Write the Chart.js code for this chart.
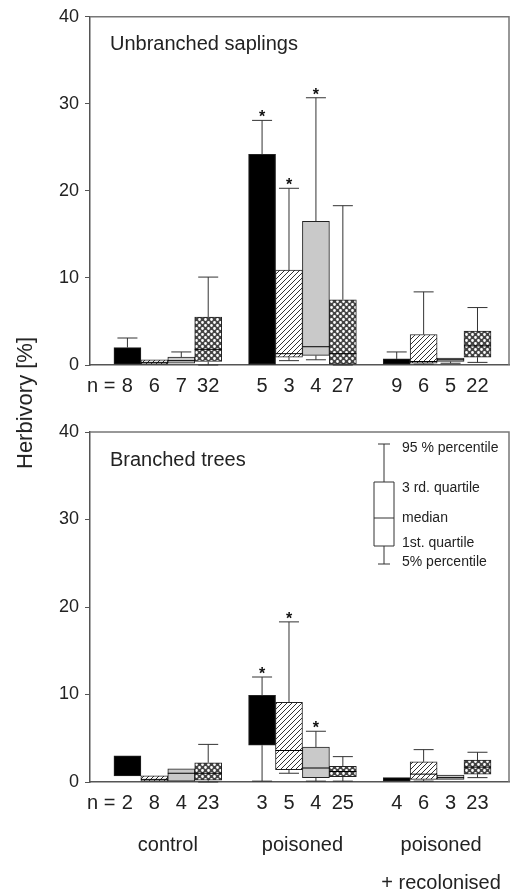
<!DOCTYPE html>
<html>
<head>
<meta charset="utf-8">
<script src="https://cdn.jsdelivr.net/npm/chart.js@4.4.1/dist/chart.umd.min.js"></script>
<style>
  html, body { margin: 0; padding: 0; background: #fff; }
  #wrap { position: relative; width: 510px; height: 893px; overflow: hidden; font-family: "Liberation Sans", Arial, sans-serif; }
  #topBox { position: absolute; left: 0; top: 0; width: 510px; height: 400px; }
  #bottomBox { position: absolute; left: 0; top: 400px; width: 510px; height: 493px; }
  #ytitle { position: absolute; left: 25px; top: 403px; transform: translate(-50%, -50%) rotate(-90deg);
            font-size: 22px; color: #222; white-space: nowrap; }
</style>
</head>
<body>
<div id="wrap">
  <div id="topBox"><canvas id="top" width="510" height="400"></canvas></div>
  <div id="bottomBox"><canvas id="bottom" width="510" height="493"></canvas></div>
  <div id="ytitle">Herbivory [%]</div>
</div>
<script>
// bar slots on the x axis (gaps at 5 and 10 separate the three treatments)
const xPositions = [1, 2, 3, 4, 6, 7, 8, 9, 11, 12, 13, 14];
const groupNames = [['control'], ['poisoned'], ['poisoned', '+ recolonised']];
const fillKinds = ['black', 'hatch', 'grey', 'mesh', 'black', 'hatch', 'grey', 'mesh', 'black', 'hatch', 'grey', 'mesh'];
const yTicks = [0, 10, 20, 30, 40];

// Unbranched saplings
const saplingN   = ['8', '6', '7', '32', '5', '3', '4', '27', '9', '6', '5', '22'];
const saplingP5  = [0.1, 0.1, 0.2, 0.0, 0.0, 0.5, 0.6, 0.0, 0.1, 0.1, 0.2, 0.3];
const saplingQ1  = [0.1, 0.1, 0.2, 0.4, 0.0, 0.9, 1.1, 0.1, 0.1, 0.2, 0.4, 0.9];
const saplingMed = [0.9, 0.3, 0.5, 1.8, 12.0, 1.3, 2.1, 1.3, 0.4, 0.4, 0.6, 2.2];
const saplingQ3  = [2.0, 0.6, 0.9, 5.5, 24.2, 10.9, 16.5, 7.5, 0.7, 3.5, 0.8, 3.9];
const saplingP95 = [3.1, 0.6, 1.5, 10.1, 28.1, 20.3, 30.7, 18.3, 1.5, 8.4, 0.8, 6.6];
const saplingStar = [0, 0, 0, 0, 1, 1, 1, 0, 0, 0, 0, 0];

// Branched trees
const treeN   = ['2', '8', '4', '23', '3', '5', '4', '25', '4', '6', '3', '23'];
const treeP5  = [0.7, 0.1, 0.1, 0.0, 0.1, 1.0, 0.1, 0.1, 0.1, 0.1, 0.3, 0.5];
const treeQ1  = [0.7, 0.1, 0.1, 0.2, 4.2, 1.4, 0.5, 0.6, 0.1, 0.3, 0.3, 0.9];
const treeMed = [1.8, 0.3, 1.0, 1.0, 7.0, 3.6, 1.6, 1.2, 0.3, 0.9, 0.5, 1.7];
const treeQ3  = [3.0, 0.7, 1.5, 2.2, 9.9, 9.1, 4.0, 1.8, 0.5, 2.3, 0.8, 2.5];
const treeP95 = [3.0, 0.7, 1.5, 4.3, 12.0, 18.3, 5.8, 2.9, 0.5, 3.7, 0.8, 3.4];
const treeStar = [0, 0, 0, 0, 1, 1, 1, 0, 0, 0, 0, 0];

const FONT = '"Liberation Sans", Arial, sans-serif';
Chart.defaults.font.family = FONT;

function makeFill(kind) {
  if (kind === 'black') return '#000';
  if (kind === 'grey') return '#c9c9c9';
  const c = document.createElement('canvas');
  const g = c.getContext('2d');
  if (kind === 'hatch') {
    c.width = 5; c.height = 5;
    g.fillStyle = '#fff';
    g.fillRect(0, 0, 5, 5);
    g.strokeStyle = '#333';
    g.lineWidth = 1;
    g.beginPath();
    g.moveTo(-1, 6); g.lineTo(6, -1);
    g.moveTo(-3, 3); g.lineTo(3, -3);
    g.moveTo(2, 8); g.lineTo(8, 2);
    g.stroke();
  } else {
    c.width = 6; c.height = 6;
    g.fillStyle = '#444';
    g.fillRect(0, 0, 6, 6);
    g.fillStyle = '#fff';
    g.beginPath();
    g.arc(1.5, 1.5, 1.4, 0, Math.PI * 2);
    g.arc(4.5, 4.5, 1.4, 0, Math.PI * 2);
    g.fill();
  }
  return g.createPattern(c, 'repeat');
}

const boxExtras = {
  id: 'boxExtras',
  afterDatasetsDraw(chart, args, o) {
    const {ctx, scales: {y}} = chart;
    const bars = chart.getDatasetMeta(0).data;
    ctx.save();
    ctx.lineWidth = 1;
    ctx.fillStyle = '#111';
    bars.forEach((bar, i) => {
      const cx = bar.x, half = bar.width / 2;
      const yQ1 = y.getPixelForValue(o.q1[i]);
      const yQ3 = y.getPixelForValue(o.q3[i]);
      if (fillKinds[i] !== 'black') {
        const yMed = y.getPixelForValue(o.med[i]);
        ctx.strokeStyle = '#000';
        ctx.beginPath();
        ctx.moveTo(cx - half, yMed); ctx.lineTo(cx + half, yMed);
        ctx.stroke();
      }
      ctx.strokeStyle = '#333';
      ctx.beginPath();
      if (o.p95[i] > o.q3[i]) {
        const yTop = y.getPixelForValue(o.p95[i]);
        ctx.moveTo(cx, yQ3); ctx.lineTo(cx, yTop);
        ctx.moveTo(cx - 10, yTop); ctx.lineTo(cx + 10, yTop);
      }
      if (o.p5[i] < o.q1[i]) {
        const yBot = y.getPixelForValue(o.p5[i]);
        ctx.moveTo(cx, yQ1); ctx.lineTo(cx, yBot);
        ctx.moveTo(cx - 10, yBot); ctx.lineTo(cx + 10, yBot);
      }
      ctx.stroke();
      if (o.star[i]) {
        ctx.font = 'bold 16px ' + FONT;
        ctx.textAlign = 'center';
        ctx.textBaseline = 'alphabetic';
        ctx.fillText('*', cx, y.getPixelForValue(o.p95[i]) + 2);
      }
    });
    ctx.restore();
  },
  afterDraw(chart, args, o) {
    const {ctx, chartArea: a, scales: {x}} = chart;
    ctx.save();
    // frame on top and right
    ctx.strokeStyle = '#777';
    ctx.lineWidth = 1.5;
    ctx.beginPath();
    ctx.moveTo(a.left, a.top); ctx.lineTo(a.right, a.top); ctx.lineTo(a.right, a.bottom);
    ctx.stroke();
    // panel title
    ctx.fillStyle = '#222';
    ctx.font = '20px ' + FONT;
    ctx.textAlign = 'left';
    ctx.textBaseline = 'middle';
    ctx.fillText(o.title, a.left + 20, a.top + 28);
    // "n =" prefix before the first sample size
    ctx.textAlign = 'right';
    ctx.fillText('n =', x.getPixelForValue(xPositions[0]) - 12, a.bottom + 21);
    if (o.legend) {
      const lx = a.right - 125, tx = a.right - 107;
      ctx.strokeStyle = '#333';
      ctx.lineWidth = 1;
      ctx.beginPath();
      ctx.moveTo(lx, a.top + 12); ctx.lineTo(lx, a.top + 50);
      ctx.moveTo(lx - 6, a.top + 12); ctx.lineTo(lx + 6, a.top + 12);
      ctx.rect(lx - 10, a.top + 50, 20, 64);
      ctx.moveTo(lx - 10, a.top + 86); ctx.lineTo(lx + 10, a.top + 86);
      ctx.moveTo(lx, a.top + 114); ctx.lineTo(lx, a.top + 132);
      ctx.moveTo(lx - 6, a.top + 132); ctx.lineTo(lx + 6, a.top + 132);
      ctx.stroke();
      ctx.font = '14px ' + FONT;
      ctx.textAlign = 'left';
      ctx.fillText('95 % percentile', tx, a.top + 16);
      ctx.fillText('3 rd. quartile', tx, a.top + 56);
      ctx.fillText('median', tx, a.top + 86);
      ctx.fillText('1st. quartile', tx, a.top + 111);
      ctx.fillText('5% percentile', tx, a.top + 130);
    }
    if (o.groups) {
      ctx.font = '20px ' + FONT;
      ctx.textAlign = 'center';
      groupNames.forEach((lines, g) => {
        const cx = (x.getPixelForValue(xPositions[g * 4]) + x.getPixelForValue(xPositions[g * 4 + 3])) / 2;
        lines.forEach((t, k) => ctx.fillText(t, cx + (g === 2 ? 4 : 0), a.bottom + 63 + k * 38));
      });
    }
    ctx.restore();
  }
};

function boxChart(id, nLabels, p5, q1, med, q3, p95, star, title, padTop, axisHeight, legend, groups) {
  return new Chart(document.getElementById(id), {
    type: 'bar',
    data: {
      datasets: [{
        data: xPositions.map((xv, i) => ({x: xv, y: [q1[i], q3[i]]})),
        backgroundColor: fillKinds.map(makeFill),
        borderColor: '#222',
        borderWidth: 1,
        borderSkipped: false,
        barThickness: 27
      }]
    },
    options: {
      responsive: false,
      animation: false,
      layout: {padding: {top: padTop, right: 1, left: 0, bottom: 0}},
      plugins: {
        legend: {display: false},
        tooltip: {enabled: false},
        boxExtras: {p5, q1, med, q3, p95, star, title, legend, groups}
      },
      scales: {
        x: {
          type: 'linear',
          offset: false,
          min: -0.39,
          max: 15.17,
          grid: {drawOnChartArea: false, drawTicks: false, offset: false},
          border: {color: '#555', width: 1.5},
          afterBuildTicks: s => { s.ticks = xPositions.map(v => ({value: v})); },
          ticks: {
            callback: (v, i) => nLabels[i],
            font: {size: 20},
            color: '#222',
            padding: 9,
            maxRotation: 0,
            autoSkip: false
          },
          afterFit: s => { s.height = axisHeight; }
        },
        y: {
          min: 0,
          max: 40,
          afterBuildTicks: s => { s.ticks = yTicks.map(v => ({value: v})); },
          ticks: {font: {size: 18}, color: '#222', padding: 6},
          grid: {drawOnChartArea: false, tickLength: 5, color: '#555'},
          border: {color: '#555', width: 1.5},
          afterFit: s => { s.width = 90; }
        }
      }
    },
    plugins: [boxExtras]
  });
}

boxChart('top', saplingN, saplingP5, saplingQ1, saplingMed, saplingQ3, saplingP95, saplingStar,
         'Unbranched saplings', 15, 35, false, false);
boxChart('bottom', treeN, treeP5, treeQ1, treeMed, treeQ3, treeP95, treeStar,
         'Branched trees', 32, 111, true, true);
</script>
</body>
</html>
